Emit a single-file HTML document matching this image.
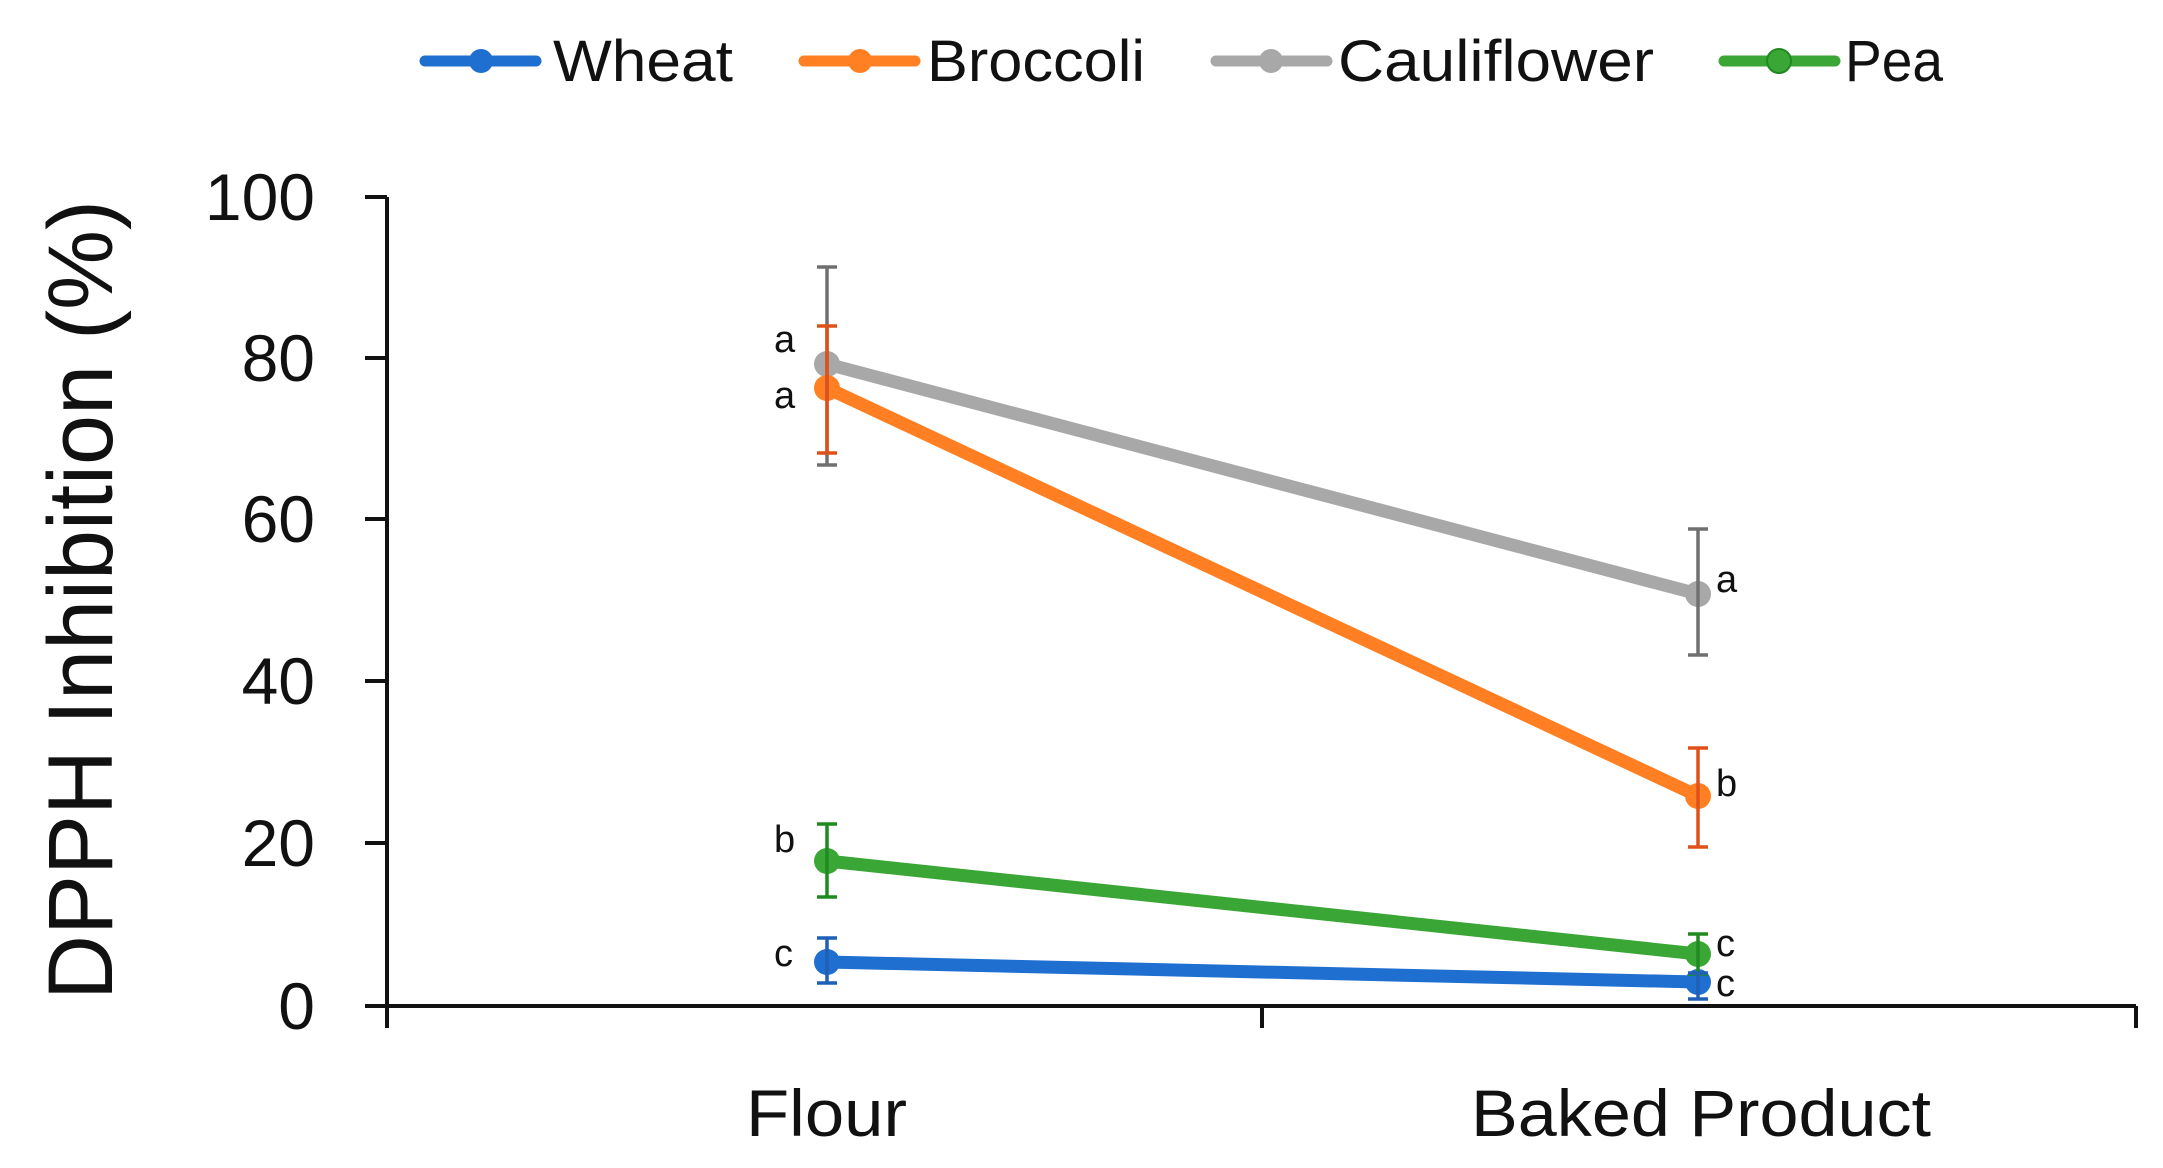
<!DOCTYPE html>
<html><head><meta charset="utf-8"><style>
html,body{margin:0;padding:0;background:#fff;}
svg{display:block;font-family:"Liberation Sans",sans-serif;}
</style></head><body>
<svg width="2163" height="1168" viewBox="0 0 2163 1168" xmlns="http://www.w3.org/2000/svg">
<rect width="2163" height="1168" fill="#fff"/>
<!-- Legend -->
<g stroke-linecap="round">
<line x1="425" y1="61" x2="536" y2="61" stroke="#1f6fd0" stroke-width="11"/><circle cx="481" cy="61" r="12" fill="#1f6fd0"/>
<line x1="804" y1="61" x2="915" y2="61" stroke="#ff7f22" stroke-width="11"/><circle cx="860" cy="61" r="12" fill="#ff7f22"/>
<line x1="1216" y1="61" x2="1327" y2="61" stroke="#a8a8a8" stroke-width="11"/><circle cx="1271" cy="61" r="12" fill="#a8a8a8"/>
<line x1="1724" y1="61" x2="1835" y2="61" stroke="#3aa635" stroke-width="11"/><circle cx="1779" cy="61" r="12" fill="#3aa635" stroke="#1f8a1f" stroke-width="2"/>
</g>
<g font-size="58" fill="#111">
<text x="553" y="81" textLength="180" lengthAdjust="spacingAndGlyphs">Wheat</text>
<text x="927" y="81" textLength="218" lengthAdjust="spacingAndGlyphs">Broccoli</text>
<text x="1338" y="81" textLength="316" lengthAdjust="spacingAndGlyphs">Cauliflower</text>
<text x="1845" y="81" textLength="98" lengthAdjust="spacingAndGlyphs">Pea</text>
</g>
<!-- Axes -->
<g stroke="#111" stroke-width="4" fill="none">
<line x1="387" y1="197" x2="387" y2="1006"/>
<line x1="365" y1="1006" x2="2136" y2="1006"/>
<line x1="365" y1="197" x2="387" y2="197"/>
<line x1="365" y1="358" x2="387" y2="358"/>
<line x1="365" y1="519" x2="387" y2="519"/>
<line x1="365" y1="681" x2="387" y2="681"/>
<line x1="365" y1="843" x2="387" y2="843"/>
<line x1="387" y1="1006" x2="387" y2="1028"/>
<line x1="1262" y1="1006" x2="1262" y2="1028"/>
<line x1="2136" y1="1006" x2="2136" y2="1028"/>
</g>
<g font-size="66" fill="#111" text-anchor="end">
<text x="315" y="220">100</text>
<text x="315" y="381">80</text>
<text x="315" y="542">60</text>
<text x="315" y="704">40</text>
<text x="315" y="866">20</text>
<text x="315" y="1029">0</text>
</g>
<text transform="translate(112,600) rotate(-90)" font-size="92" fill="#111" text-anchor="middle" textLength="800" lengthAdjust="spacingAndGlyphs">DPPH Inhibition (%)</text>
<g font-size="66" fill="#111">
<text x="746" y="1136" textLength="161" lengthAdjust="spacingAndGlyphs">Flour</text>
<text x="1471" y="1136" textLength="460" lengthAdjust="spacingAndGlyphs">Baked Product</text>
</g>
<!-- Series: y = 1006 - v*8.08 -->
<g stroke-linecap="round">
<!-- Cauliflower -->
<line x1="827" y1="364" x2="1698" y2="594" stroke="#a8a8a8" stroke-width="13"/>
<circle cx="827" cy="364" r="13" fill="#a8a8a8"/><circle cx="1698" cy="594" r="13" fill="#a8a8a8"/>
<!-- Broccoli -->
<line x1="827" y1="388" x2="1698" y2="796" stroke="#ff7f22" stroke-width="13"/>
<circle cx="827" cy="388" r="13" fill="#ff7f22"/><circle cx="1698" cy="796" r="13" fill="#ff7f22"/>
<!-- Pea -->
<line x1="827" y1="861" x2="1698" y2="954" stroke="#3aa635" stroke-width="13"/>
<circle cx="827" cy="861" r="13" fill="#3aa635"/><circle cx="1698" cy="954" r="13" fill="#3aa635"/>
<!-- Wheat -->
<line x1="827" y1="962" x2="1698" y2="982" stroke="#1f6fd0" stroke-width="13"/>
<circle cx="827" cy="962" r="13" fill="#1f6fd0"/><circle cx="1698" cy="982" r="13" fill="#1f6fd0"/>
</g>
<!-- Error bars -->
<g stroke-width="3.5" fill="none">
<path d="M827 267V465M817 267H837M817 465H837" stroke="#707070"/>
<path d="M827 326V453M817 326H837M817 453H837" stroke="#e0501a"/>
<path d="M1698 529V655M1688 529H1708M1688 655H1708" stroke="#707070"/>
<path d="M1698 748V847M1688 748H1708M1688 847H1708" stroke="#e0501a"/>
<path d="M827 824V897M817 824H837M817 897H837" stroke="#1f8a1f"/>
<path d="M1698 934V974M1688 934H1708M1688 974H1708" stroke="#1f8a1f"/>
<path d="M827 938V983M817 938H837M817 983H837" stroke="#1f5fb8"/>
<path d="M1698 973V999M1688 973H1708M1688 999H1708" stroke="#1f5fb8"/>
</g>
<!-- Letters -->
<g font-size="38" fill="#111">
<text x="774" y="352">a</text>
<text x="774" y="408">a</text>
<text x="1716" y="592">a</text>
<text x="1716" y="796">b</text>
<text x="774" y="852">b</text>
<text x="1716" y="956">c</text>
<text x="774" y="966">c</text>
<text x="1716" y="996">c</text>
</g>
</svg>
</body></html>
